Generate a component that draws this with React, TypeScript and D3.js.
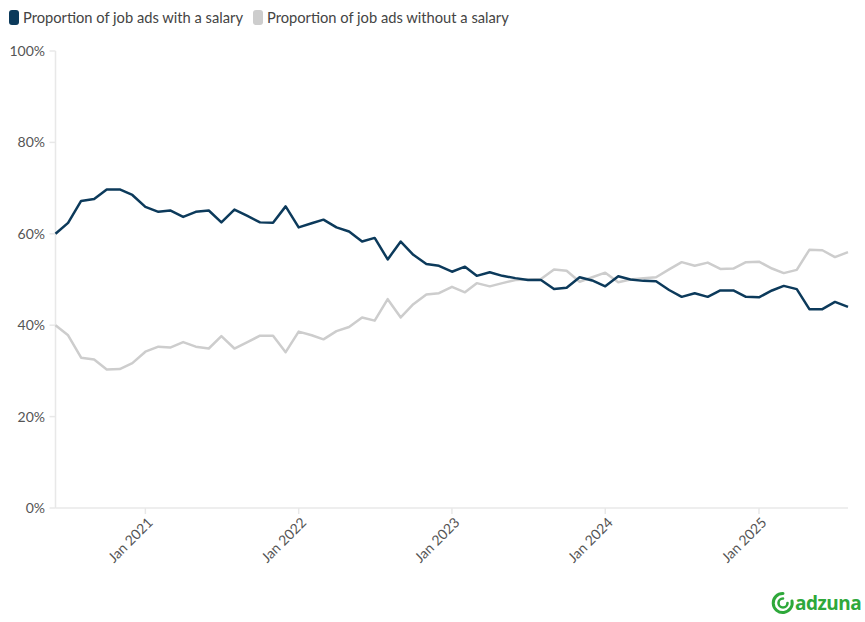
import { line, scaleLinear, scaleTime, timeMonth } from "d3";

const START = new Date(2020, 5, 1);
const END = new Date(2025, 7, 1);
const months = timeMonth.range(START, timeMonth.offset(END, 1));

// Jun 2020 .. Aug 2025, percent
const withSalary = [
  60.0, 62.4, 67.2, 67.6, 69.7, 69.7, 68.5, 65.9, 64.8, 65.1, 63.7, 64.8,
  65.1, 62.5, 65.3, 63.9, 62.5, 62.4, 66.0, 61.4, 62.3, 63.1, 61.4, 60.5,
  58.3, 59.1, 54.4, 58.3, 55.4, 53.4, 53.0, 51.7, 52.8, 50.8, 51.6, 50.8,
  50.3, 49.9, 49.9, 47.9, 48.2, 50.5, 49.8, 48.5, 50.7, 50.0, 49.7, 49.6,
  47.7, 46.2, 47.0, 46.2, 47.6, 47.6, 46.2, 46.1, 47.6, 48.6, 47.9, 43.5,
  43.5, 45.1, 44.0,
];
const withoutSalary = [
  40.0, 37.8, 32.9, 32.5, 30.3, 30.4, 31.7, 34.2, 35.3, 35.1, 36.3, 35.3,
  34.9, 37.6, 34.9, 36.3, 37.7, 37.7, 34.1, 38.6, 37.8, 36.9, 38.7, 39.6,
  41.7, 41.0, 45.7, 41.7, 44.6, 46.7, 47.0, 48.4, 47.2, 49.2, 48.5, 49.2,
  49.9, 50.0, 50.1, 52.2, 51.9, 49.5, 50.5, 51.5, 49.4, 50.0, 50.3, 50.5,
  52.2, 53.8, 53.0, 53.7, 52.3, 52.4, 53.8, 53.9, 52.4, 51.4, 52.1, 56.5,
  56.4, 54.9, 56.0,
];
const yTicks = [0, 20, 40, 60, 80, 100];
const xTicks = [2021, 2022, 2023, 2024, 2025].map((yr) => new Date(yr, 0, 1));

const series = [
  { name: "Proportion of job ads with a salary", values: withSalary, color: "#0c3a5b" },
  { name: "Proportion of job ads without a salary", values: withoutSalary, color: "#cdcdcd" },
];
const legendOffsets = [9, 253];

const WIDTH = 865;
const HEIGHT = 622;
const LEFT = 55.5;
const RIGHT = 848;
const TOP = 51;
const BOTTOM = 508;
const FONT = "Lato, 'Noto Sans', sans-serif";
const GREEN = "#2ea83a";

export default function App() {
  const x = scaleTime().domain([START, END]).range([LEFT, RIGHT]);
  const y = scaleLinear().domain([0, 100]).range([BOTTOM, TOP]);
  const mkLine = line<number>()
    .x((_, i) => x(months[i]))
    .y((v) => y(v));

  return (
    <svg
      width={WIDTH}
      height={HEIGHT}
      style={{ position: "absolute", left: 0, top: 0, background: "#fff" }}
      fontFamily={FONT}
    >
      {/* legend */}
      {series.map((s, i) => (
        <g key={s.name} transform={`translate(${legendOffsets[i]},0)`}>
          <rect x={0} y={10} width={10} height={15} rx={3} fill={s.color} />
          <text x={14} y={23} fontSize={14.7} fill="#444">
            {s.name}
          </text>
        </g>
      ))}

      {/* y axis */}
      <line x1={LEFT} x2={LEFT} y1={TOP} y2={BOTTOM} stroke="#e8e8e8" strokeWidth={1.5} />
      {yTicks.map((t) => (
        <g key={t}>
          <line x1={LEFT - 6} x2={LEFT} y1={y(t)} y2={y(t)} stroke="#e8e8e8" strokeWidth={1.5} />
          <text x={45} y={y(t)} dy="0.35em" textAnchor="end" fontSize={14} fill="#555">
            {t}%
          </text>
        </g>
      ))}

      {/* x axis */}
      <line x1={LEFT} x2={RIGHT} y1={BOTTOM} y2={BOTTOM} stroke="#e8e8e8" strokeWidth={1.5} />
      {xTicks.map((d) => (
        <g key={d.getFullYear()} transform={`translate(${x(d)},${BOTTOM})`}>
          <line y1={0} y2={6} stroke="#e8e8e8" strokeWidth={1.5} />
          <text
            transform="translate(5,12) rotate(-45)"
            textAnchor="end"
            dy="0.35em"
            fontSize={14}
            fill="#555"
          >
            Jan {d.getFullYear()}
          </text>
        </g>
      ))}

      {/* lines: grey under dark */}
      {[...series].reverse().map((s) => (
        <path
          key={s.name}
          d={mkLine(s.values) ?? ""}
          fill="none"
          stroke={s.color}
          strokeWidth={2.5}
          strokeLinejoin="round"
        />
      ))}

      {/* logo */}
      <g transform="translate(773,592)">
        <path
          d="M10 1.5 A9.5 9.5 0 1 0 19 9"
          fill="none"
          stroke={GREEN}
          strokeWidth={3}
          strokeLinecap="round"
        />
        <path
          d="M10 6.5 A4.5 4.5 0 1 0 14.5 11"
          fill="none"
          stroke={GREEN}
          strokeWidth={2.6}
          strokeLinecap="round"
        />
        <text x={22} y={18} fontSize={19} fontWeight={700} fill={GREEN} fontFamily="'Open Sans', sans-serif" letterSpacing={-0.5}>
          adzuna
        </text>
      </g>
    </svg>
  );
}
